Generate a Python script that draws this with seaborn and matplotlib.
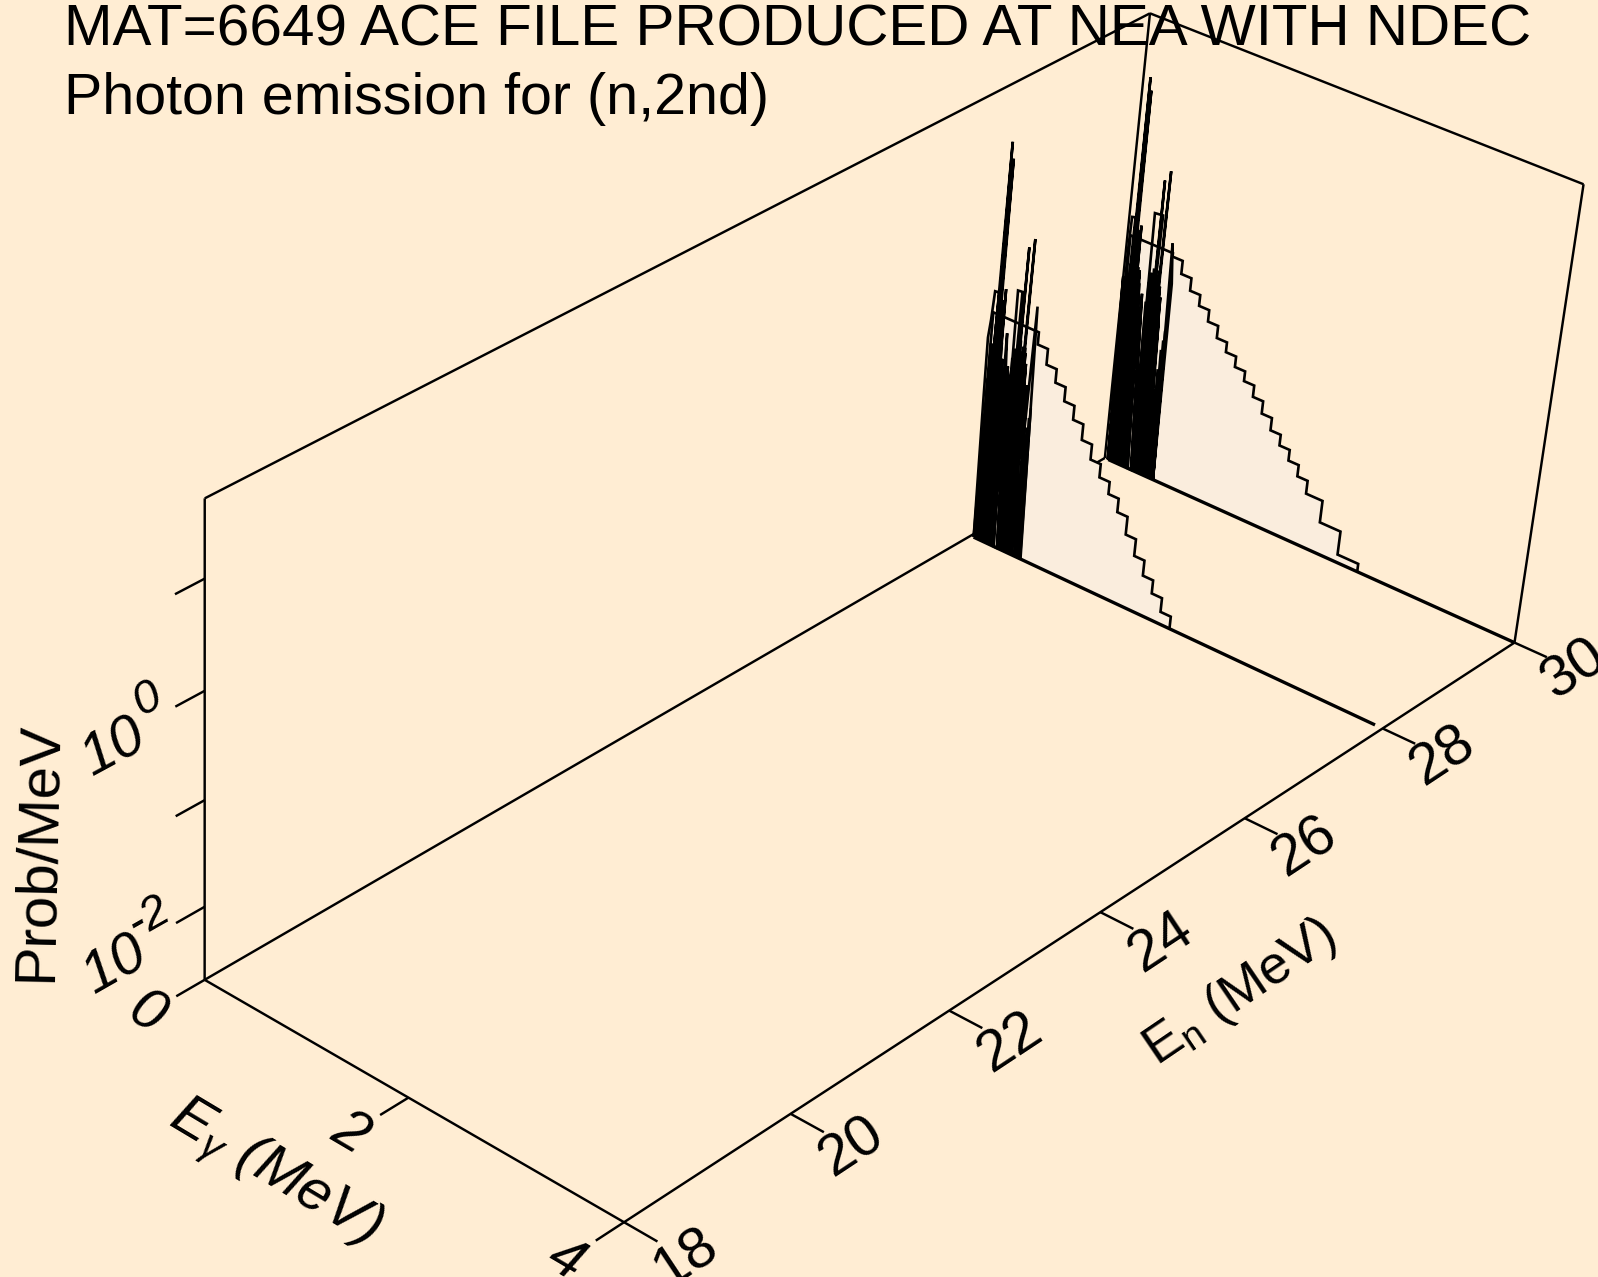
import numpy as np
import seaborn as sns
import matplotlib
matplotlib.use('Agg')
import matplotlib.pyplot as plt
from mpl_toolkits.mplot3d.art3d import Poly3DCollection

# -----------------------------------------------------
# Data: E in MeV, height as log10(prob/MeV)
# -----------------------------------------------------
en_lim = [18, 30]
eg_lim = [0, 4]
z_lim = [-2.7, 1.7]
F = z_lim[0]

en_ticks = [18, 20, 22, 24, 26, 28, 30]
eg_ticks = [0, 2, 4]
z_ticks = [-2, -1, 0, 1]

# En = 28 MeV spectrum
en_a = 28
a_edges = [0.03, 0.48, 0.58, 0.68, 0.78, 0.88, 0.98, 1.08, 1.18, 1.28, 1.38, 1.48, 1.58, 1.68, 1.78, 1.88, 1.98]
a_levels = [-0.45, -0.569, -0.722, -0.854, -0.992, -1.129, -1.283, -1.431, -1.562, -1.681, -1.815, -1.992, -2.158, -2.309, -2.44, -2.578]
a_base_end = 3.93
a_low_e = [0.03, 0.008, 0.0, 0.015, 0.03, 0.07, 0.05,
           0.035, 0.06, 0.073, 0.085, 0.096, 0.105, 0.08, 0.12, 0.105, 0.135, 0.133, 0.15,
           0.125, 0.165, 0.15, 0.18, 0.165, 0.195, 0.18, 0.205, 0.235,
           0.268, 0.215, 0.268, 0.247, 0.29, 0.28, 0.25, 0.295, 0.317, 0.31, 0.285, 0.325,
           0.30, 0.34, 0.366, 0.355, 0.33, 0.37, 0.345, 0.385, 0.37, 0.40, 0.385, 0.415,
           0.43, 0.445, 0.445, 0.46, 0.46, 0.475, 0.47, 0.49, 0.406, 0.423, 0.445, 0.505]
a_low_z = [F, -1.33, -0.71, -0.53, -0.245, -0.24, F,
           -0.75, F, 1.2, F, 1.05, F, -0.5, F, -0.3, F, -0.18, F,
           -0.8, F, -0.9, F, -1.0, F, -0.59, -1.09, F,
           F, -0.9, F, -0.145, -0.14, F, -0.9, F, 0.3, F, -0.7, F,
           -0.6, F, 0.4, F, -0.8, F, -0.8, F, -0.7, F, -0.8, F,
           -1.75, F, -1.6, F, -1.5, F, -1.5, F, -1.0, -1.73, -0.216, F]
a_dense_e = [0.03, 0.042, 0.054, 0.066, 0.078, 0.09, 0.102, 0.114, 0.126, 0.138, 0.15, 0.162, 0.174, 0.186, 0.195,
             0.24, 0.25, 0.258, 0.27, 0.282, 0.294, 0.306, 0.318, 0.33, 0.342, 0.354, 0.366, 0.378, 0.39,
             0.425, 0.437, 0.449, 0.461, 0.47]
a_dense_z = [-1.1, -0.8, -0.75, -0.55, -0.6, -0.7, -0.5, -0.6, -0.55, -0.7, -0.85, -0.85, -1.0, -1.15, -1.2,
             -1.0, -0.8, -0.85, -0.7, -0.75, -0.65, -0.75, -0.6, -0.7, -0.65, -0.75, -0.65, -0.9, -1.05,
             -1.7, -1.6, -1.4, -1.3, -1.2]

# En = 30 MeV spectrum
en_b = 30
b_edges = [0.03, 0.45, 0.55, 0.65, 0.75, 0.85, 0.95, 1.05, 1.15, 1.25, 1.35, 1.45, 1.55, 1.65, 1.75, 1.85, 1.95, 2.11, 2.31, 2.51]
b_levels = [-0.43, -0.464, -0.593, -0.716, -0.823, -0.936, -1.056, -1.153, -1.257, -1.354, -1.467, -1.59, -1.713, -1.82, -1.927, -2.04, -2.169, -2.386, -2.62]
b_base_end = 4.0
b_low_e = [0.035, 0.0, 0.03, 0.02, 0.027, 0.06, 0.05,
           0.04, 0.065, 0.067, 0.08, 0.087, 0.10, 0.075, 0.115, 0.095, 0.13, 0.125, 0.145,
           0.12, 0.16, 0.15, 0.175, 0.15, 0.19, 0.15, 0.184, 0.235,
           0.268, 0.197, 0.268, 0.24, 0.32, 0.29, 0.26, 0.305, 0.303, 0.32, 0.28, 0.335,
           0.352, 0.35, 0.31, 0.365, 0.335, 0.38, 0.36, 0.395, 0.375, 0.41, 0.383, 0.403,
           0.42, 0.44, 0.44, 0.455, 0.46, 0.47, 0.49, 0.437, 0.47, 0.49]
b_low_z = [F, -0.85, F, -0.56, -0.25, -0.24, F,
           -0.85, F, 1.12, F, 1.0, F, -0.6, F, -0.35, F, -0.295, F,
           -0.8, F, -0.73, F, -0.95, F, -0.73, -1.2, F,
           F, -0.94, F, -0.124, -0.114, F, -0.9, F, 0.22, F, -0.7, F,
           0.33, F, -0.7, F, -0.85, F, -0.8, F, -0.9, F, -1.13, -1.85,
           F, -1.7, F, -1.6, F, -1.5, F, -0.34, -0.725, F]
b_dense_e = [0.03, 0.042, 0.054, 0.066, 0.078, 0.09, 0.102, 0.114, 0.126, 0.138, 0.15, 0.162, 0.174, 0.186,
             0.24, 0.25, 0.263, 0.275, 0.287, 0.299, 0.311, 0.323, 0.335, 0.347, 0.359, 0.371,
             0.41, 0.422, 0.434, 0.446, 0.455]
b_dense_z = [-1.0, -0.8, -0.7, -0.55, -0.6, -0.7, -0.45, -0.6, -0.55, -0.7, -0.85, -0.85, -1.0, -1.2,
             -1.0, -0.8, -0.7, -0.75, -0.65, -0.75, -0.6, -0.7, -0.65, -0.75, -0.9, -1.05,
             -1.8, -1.6, -1.4, -1.3, -1.2]

title_lines = ['MAT=6649 ACE FILE PRODUCED AT NEA WITH NDEC', 'Photon emission for (n,2nd)']

# view calibration: box landmarks (En, Eg, height) and where they sit in the image
view_world = [(18, 0, F), (18, 4, F), (30, 4, F), (30, 0, F), (18, 0, 1.7), (30, 0, 1.7), (30, 4, 1.7),
              (18, 0, -2), (18, 0, -1), (18, 0, 0), (18, 0, 1),
              (20, 4, F), (22, 4, F), (24, 4, F), (26, 4, F), (28, 4, F), (18, 2, F)]
view_px = [(204.8, 979.4), (622.7, 1220.9), (1514.4, 644.1), (1105, 456), (204.8, 496.3), (1149.6, 14.3), (1583.7, 183.4),
           (204.8, 907), (204.8, 802), (204.8, 692), (204.8, 579),
           (791.8, 1112.9), (949.8, 1011), (1100.6, 913.1), (1245.3, 818.4), (1381.7, 728.3), (407.6, 1097.6)]

W, H = 1598, 1277
BG = '#FFEDD3'
FILL = '#FAEDDD'
LABEL_SIZE = 42
LEAN = 0.03  # spike feet sit a bit above the peak energy


def fit_view(world, px):
    rows = []
    for (x, y, z), (u, v) in zip(world, px):
        v = H - v
        rows.append([x, y, z, 1, 0, 0, 0, 0, -u * x, -u * y, -u * z, -u])
        rows.append([0, 0, 0, 0, x, y, z, 1, -v * x, -v * y, -v * z, -v])
    P = np.linalg.svd(np.array(rows, dtype=float))[2][-1].reshape(3, 4)
    return P / P[2, 3]


sns.set_theme(style='white', rc={'figure.facecolor': BG, 'text.color': 'black'})
plt.rcParams['font.family'] = ['Liberation Sans', 'DejaVu Sans']
plt.rcParams['mathtext.fontset'] = 'custom'
plt.rcParams['mathtext.rm'] = 'Liberation Sans:italic'
plt.rcParams['mathtext.it'] = 'Liberation Sans:italic'
plt.rcParams['mathtext.default'] = 'regular'

fig = plt.figure(figsize=(W / 100, H / 100), dpi=100)
ax = fig.add_axes([0, 0, 1, 1], projection='3d', computed_zorder=False)
ax.set_axis_off()
ax.patch.set_visible(False)
ax.set_proj_type('ortho')  # only switches off line clipping, the camera is replaced below
camera = fit_view(view_world, view_px)


def view_proj():
    # the stock camera can't be posed on this box, so use the fitted one
    m = ax.transData.inverted().get_matrix() @ camera
    return np.vstack([m[0], m[1], [0, 0, 0, 1], m[2]])


ax.get_proj = view_proj


def line3(xs, ys, zs, lw=1.75, z=1):
    ax.plot(xs, ys, zs, color='black', lw=lw, zorder=z, clip_on=False,
            solid_joinstyle='miter', solid_capstyle='butt')


# box
e0, e1 = en_lim
g0, g1 = eg_lim
z0, z1 = z_lim
line3([e0, e1], [g0, g0], [z0, z0])
line3([e0, e0], [g0, g1], [z0, z0])
line3([e0, e1], [g1, g1], [z0, z0])
line3([e0, e0], [g0, g0], [z0, z1])
line3([e0, e1], [g0, g0], [z1, z1])
line3([e1, e1], [g0, g1], [z1, z1])
line3([e1, e1], [g1, g1], [z1, z0])
line3([e1, e1], [g0, g0], [z0, z1])

# ticks
for t in en_ticks:
    line3([t, t], [g1, g1 + 0.3], [z0, z0])
    ax.text(t, g1 + 0.55, z0, str(t), zdir='x', ha='center', va='center', fontsize=LABEL_SIZE)
for t in eg_ticks:
    line3([e0, e0 - 0.33], [t, t], [z0, z0])
    ax.text(e0 - 0.68, t, z0, str(t), zdir='y', ha='center', va='center', fontsize=LABEL_SIZE, style='italic')
for t in z_ticks:
    line3([e0, e0 - 0.33], [g0, g0], [t, t])
for t, s in [(-2, '-2'), (0, '0')]:
    ax.text(e0 - 1.02, g0, t - 0.07, '10', zdir='x', ha='center', va='center', fontsize=LABEL_SIZE, style='italic')
    ax.text(e0 - 0.64, g0, t + 0.2, s, zdir='x', ha='center', va='center', fontsize=34, style='italic')

ax.text(23.88, g1 + 1.33, z0, r'$\mathregular{E_n}$ (MeV)', zdir='x', ha='center', va='center', fontsize=39)
ax.text(e0 - 1.48, 1.95, z0, r'$\mathregular{E_\gamma}$ (MeV)', zdir='y', ha='center', va='center', fontsize=LABEL_SIZE, style='italic')
ax.text(e0 - 1.85, g0, -0.63, 'Prob/MeV', zdir=(0.05, 0, 1), ha='center', va='center', fontsize=LABEL_SIZE)


def spectrum(en, edges, levels, low_e, low_z, dense_e, dense_z, base_end, zo):
    sx = np.repeat(edges, 2)[1:-1]
    sz = np.repeat(levels, 2)
    px = np.concatenate([[edges[0]], sx, [edges[-1]]])
    pz = np.concatenate([[F], sz, [F]])
    poly = Poly3DCollection([np.column_stack([np.full(px.size, en), px, pz])],
                            facecolor=FILL, edgecolor='none', zorder=zo)
    ax.add_collection3d(poly, autolim=False)
    poly.set_clip_on(False)
    line3(np.full(px.size, en), px, pz, lw=1.9, z=zo + 1)
    for e, lz in zip(dense_e, dense_z):
        line3([en, en], [e, e + LEAN], [lz, F], lw=1.9, z=zo + 2)
    line3(np.full(len(low_e), en), low_e, low_z, lw=1.9, z=zo + 2)
    line3([en, en], [low_e[0], base_end], [F, F], lw=2.4, z=zo + 2)


spectrum(en_b, b_edges, b_levels, b_low_e, b_low_z, b_dense_e, b_dense_z, b_base_end, 2)
spectrum(en_a, a_edges, a_levels, a_low_e, a_low_z, a_dense_e, a_dense_z, a_base_end, 5)

fig.text(63 * 1.019 / W, 1 - 45 / H, title_lines[0], fontsize=42, va='baseline', ha='left', zorder=20)
fig.text(63 * 1.019 / W, 1 - 114 / H, title_lines[1], fontsize=41.3, va='baseline', ha='left', zorder=20)

fig.savefig('out.png', dpi=100)
